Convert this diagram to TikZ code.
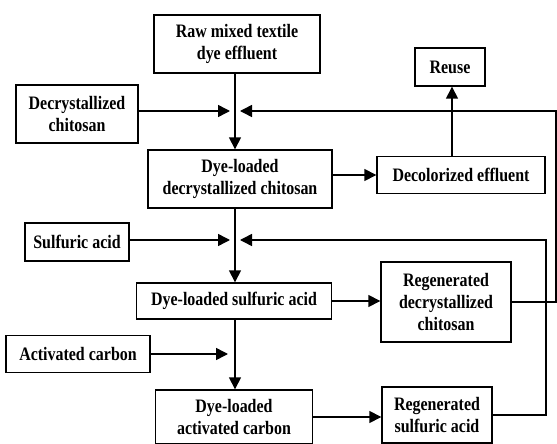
\documentclass[tikz,border=0pt]{standalone}
\usepackage{fontspec}
\setmainfont{Liberation Serif}[FakeStretch=0.84]
\usetikzlibrary{arrows.meta}

\begin{document}
\begin{tikzpicture}[x=1pt,y=-1pt,
  box/.style={rectangle,draw,line width=1.4pt,align=center,inner sep=0pt,
    font=\fontsize{19}{22}\selectfont\bfseries},
  flow/.style={line width=1.5pt,-{Triangle[length=12pt,width=12pt]}}]
\useasboundingbox (0,0) rectangle (557,444);
\node at (237,44) [box,minimum width=166pt,minimum height=58pt] (raw) {Raw mixed textile\\dye effluent};
\node at (450,67) [box,minimum width=70pt,minimum height=38pt] (reuse) {Reuse};
\node at (77,114) [box,minimum width=122pt,minimum height=58pt] (decryst) {Decrystallized\\chitosan};
\node at (240,179) [box,minimum width=184pt,minimum height=58pt] (dldc) {Dye-loaded\\decrystallized chitosan};
\node at (461,175) [box,minimum width=168pt,minimum height=37pt] (decol) {Decolorized effluent};
\node at (77,242) [box,minimum width=104pt,minimum height=38pt] (sulf) {Sulfuric acid};
\node at (234,301) [box,minimum width=195pt,minimum height=36pt] (dlsa) {Dye-loaded sulfuric acid};
\node at (446,302) [box,minimum width=130pt,minimum height=80pt] (rdc) {Regenerated\\decrystallized\\chitosan};
\node at (78,354) [box,minimum width=144pt,minimum height=37pt] (actc) {Activated carbon};
\node at (234,417) [box,minimum width=157pt,minimum height=54pt] (dlac) {Dye-loaded\\activated carbon};
\node at (437,415) [box,minimum width=110pt,minimum height=56pt] (rsa) {Regenerated\\sulfuric acid};
% merge points on the main line
\coordinate (m1) at (235,111);
\coordinate (m2) at (235,240);
\coordinate (m3) at (235,354);
\coordinate (c1) at (556,111);
\coordinate (c2) at (546,240);
% main line
\draw[flow] (raw.south -| m1) -- (dldc.north -| m1);
\draw[flow] (dldc.south -| m2) -- (dlsa.north -| m2);
\draw[flow] (dlsa.south -| m3) -- (dlac.north -| m3);
\draw[flow] (decryst.east |- m1) -- ([xshift=-5pt]m1);
\draw[flow] (sulf.east |- m2) -- ([xshift=-5pt]m2);
\draw[flow] (actc.east) -- ([xshift=-7pt]m3);
% products
\draw[flow] (dldc.east |- decol.west) -- (decol.west);
\draw[flow] (decol.north -| 452,0) -- (reuse.south -| 452,0);
\draw[flow] (dlsa.east) -- (dlsa.east -| rdc.west);
\draw[flow] (dlac.east) -- (dlac.east -| rsa.west);
% recycle loops
\draw[flow] (rdc.east) -| (c1) -- ([xshift=5pt]m1);
\draw[flow] (rsa.east) -| (c2) -- ([xshift=5pt]m2);
\end{tikzpicture}
\end{document}
